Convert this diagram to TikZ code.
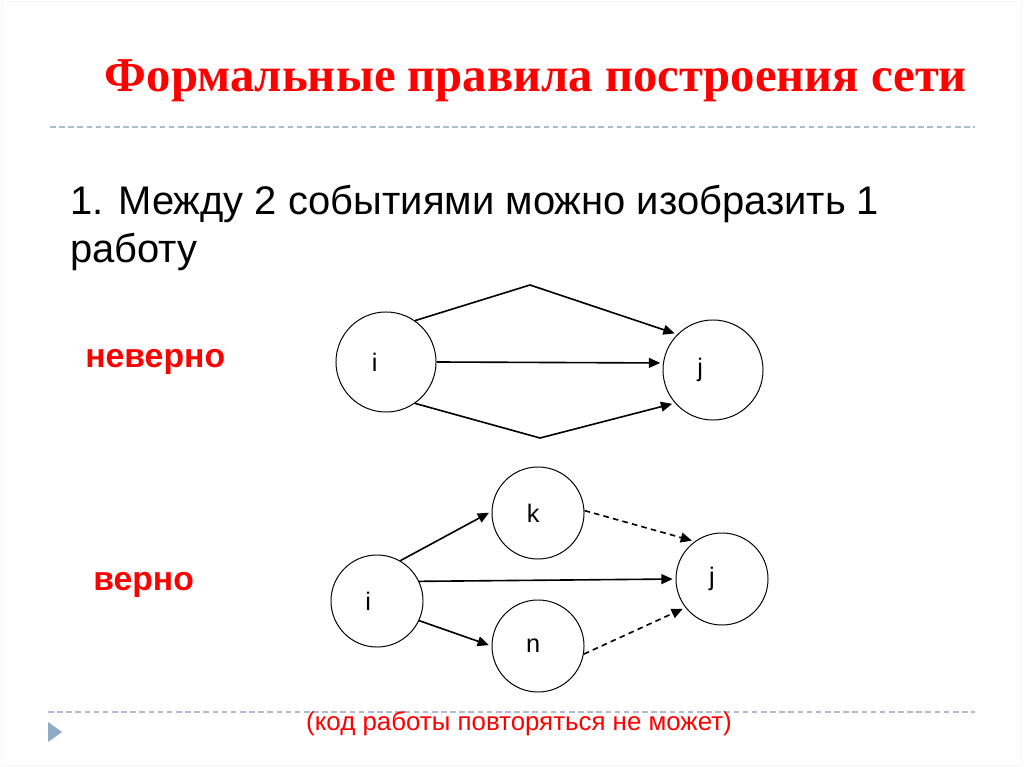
\documentclass[tikz,border=0pt]{standalone}
\usepackage{fontspec}
\setmainfont{Liberation Serif}
\newfontfamily\arialfont{Liberation Sans}
\usepackage{tikz}
\usetikzlibrary{arrows.meta}
\definecolor{rulecol}{HTML}{A9BCD0}
\definecolor{markcol}{HTML}{8FAAC3}

\begin{document}
\begin{tikzpicture}[x=0.025cm,y=-0.025cm,
				every label/.style={font=\arialfont\fontsize{18}{21}\selectfont, inner sep=0pt},
				roundnode/.style={circle, draw=black, line width=0.7pt, fill=white, minimum size=#1, inner sep=0pt},
				roundnode/.default=2.5cm,
				arc/.style={line width=1.15pt, -{Triangle[length=8pt,width=7pt]}, shorten >=2pt},
				dummyarc/.style={arc, dash pattern=on 4pt off 3pt},
				redtext/.style={text=red, inner sep=0pt, font=\arialfont\bfseries\fontsize{24}{28}\selectfont},
				]
				\useasboundingbox (0,0) rectangle (1024,767);
				\draw[gray!8] (1,1) rectangle (1021,765);
				
				%Title and rules
				\node[anchor=base, text=red, font=\bfseries\fontsize{34.6}{40}\selectfont] (title) at (536,92) {Формальные правила построения сети};
				\draw[rulecol, line width=0.8pt, dash pattern=on 4pt off 2.5pt] (50,127) -- (975,127);
				\draw[rulecol, line width=0.8pt, dash pattern=on 4pt off 2.5pt] (48,712) -- (975,712);
				\fill[markcol] (48,722) -- (62,732) -- (48,742) -- cycle;
				
				%Texts
				\node[anchor=base west, inner sep=0pt, font=\arialfont\fontsize{28.4}{34}\selectfont] (rule1) at (70,215) {1. Между 2 событиями можно изобразить 1};
				\node[anchor=base west, inner sep=0pt, font=\arialfont\fontsize{28.4}{34}\selectfont] (rule2) at (70,262) {работу};
				\node[anchor=base west, redtext] (wrong) at (85,367) {неверно};
				\node[anchor=base west, redtext] (right) at (93,590) {верно};
				\node[anchor=base, text=red, font=\arialfont\fontsize{18.4}{22}\selectfont] (note) at (519,730) {(код работы повторяться не может)};
				
				%Nodes
				\node[roundnode, label={[xshift=-0.28cm]center:i}]      (ti) 	at 	(386,362)       {};
				\node[roundnode, label={[xshift=-0.32cm]center:j}]      (tj) 	at 	(713,370)       {};
				\node[roundnode=2.3cm, label={[xshift=-0.22cm]center:i}]  (bi) 	at 	(377,601)       {};
				\node[roundnode=2.3cm, label={[xshift=-0.12cm]center:k}]  (bk) 	at 	(538,513)       {};
				\node[roundnode=2.3cm, label={[xshift=-0.12cm]center:n}]  (bn) 	at 	(538,646)       {};
				\node[roundnode=2.3cm, label={[xshift=-0.25cm]center:j}]  (bj) 	at 	(722,579)       {};
				\coordinate (tup)   at (530,285);
				\coordinate (tdown) at (540,438);
				
				%Lines
				\draw[arc] (ti.55) -- (tup) -- (tj.135);
				\draw[arc] (ti.east) -- (tj.172);
				\draw[arc] (ti.305) -- (tdown) -- (tj.221);
				
				\draw[arc] (bi.60) -- (bk.178);
				\draw[arc] (bi.25) -- (bj.west);
				\draw[arc] (bi.335) -- (bn.west);
				\draw[dummyarc] (bk.3) -- (bj.126);
				\draw[dummyarc] (bn.350) -- (bj.218);
			\end{tikzpicture}
\end{document}
